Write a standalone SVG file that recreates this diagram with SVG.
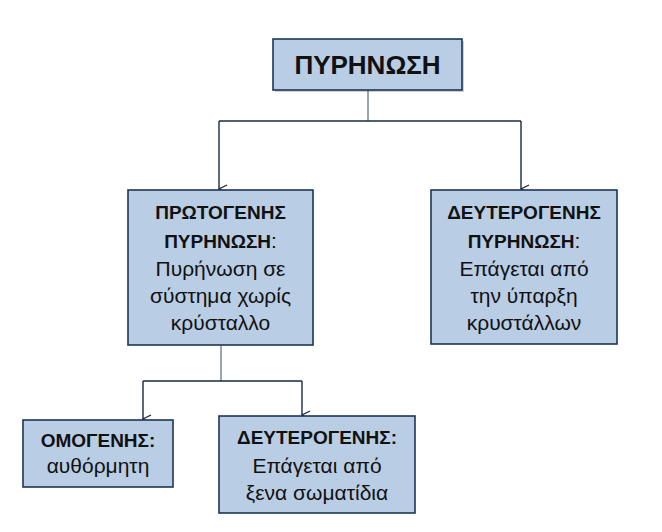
<svg xmlns="http://www.w3.org/2000/svg" width="662" height="532" viewBox="0 0 662 532">
<defs>
<style>
.box{fill:#B9CDE5;stroke:#1F3556;stroke-width:1.6}
.shadow{fill:#000;opacity:0.18}
.t{font-family:"Liberation Sans",Arial,sans-serif;font-size:21px;fill:#111;text-anchor:middle}
.b{font-weight:bold;font-size:19px}
.big{font-size:26px;font-weight:bold}
.ln{fill:none;stroke:#1A2840;stroke-width:1.4}
.stem{fill:none;stroke:#6E7F96;stroke-width:1.4}
</style>
<marker id="ah" viewBox="0 0 10 10" refX="5" refY="9" markerWidth="10" markerHeight="10" markerUnits="userSpaceOnUse" orient="auto">
<path d="M1,1 L5,9 L9,1" fill="none" stroke="#1A2840" stroke-width="1.3"/>
</marker>
</defs>
<rect width="662" height="532" fill="#fff"/>
<g id="connectors">
<path class="stem" d="M368,90 V121"/>
<path class="ln" d="M219,121 H521"/>
<path class="ln" d="M219,121 V189" marker-end="url(#ah)"/>
<path class="ln" d="M521,121 V189" marker-end="url(#ah)"/>
<path class="stem" d="M221,345 V381"/>
<path class="ln" d="M143,381 H302"/>
<path class="ln" d="M143,381 V419" marker-end="url(#ah)"/>
<path class="ln" d="M302,381 V415" marker-end="url(#ah)"/>
</g>
<g id="pyrinosi">
<rect class="shadow" x="275" y="41" width="189" height="51"/>
<rect class="box" x="273" y="39" width="189" height="51"/>
<text class="t big" x="367.5" y="74">ΠΥΡΗΝΩΣΗ</text>
</g>
<g id="protogenis">
<rect class="box" x="128" y="190" width="185" height="155"/>
<text class="t" x="220.5" y="219"><tspan class="b">ΠΡΩΤΟΓΕΝΗΣ</tspan></text>
<text class="t" x="220.5" y="248"><tspan class="b">ΠΥΡΗΝΩΣΗ</tspan>:</text>
<text class="t" x="220.5" y="276">Πυρήνωση σε</text>
<text class="t" x="220.5" y="303">σύστημα χωρίς</text>
<text class="t" x="220.5" y="330">κρύσταλλο</text>
</g>
<g id="deuterogenis-pyrinosi">
<rect class="box" x="431" y="190" width="186" height="154"/>
<text class="t" x="524" y="219"><tspan class="b">ΔΕΥΤΕΡΟΓΕΝΗΣ</tspan></text>
<text class="t" x="524" y="248"><tspan class="b">ΠΥΡΗΝΩΣΗ</tspan>:</text>
<text class="t" x="524" y="276">Επάγεται από</text>
<text class="t" x="524" y="303">την ύπαρξη</text>
<text class="t" x="524" y="330">κρυστάλλων</text>
</g>
<g id="omogenis">
<rect class="box" x="23" y="420" width="150" height="67"/>
<text class="t b" x="98" y="447">ΟΜΟΓΕΝΗΣ:</text>
<text class="t" x="98" y="473">αυθόρμητη</text>
</g>
<g id="deuterogenis">
<rect class="box" x="219" y="416" width="196" height="97"/>
<text class="t b" x="317" y="444">ΔΕΥΤΕΡΟΓΕΝΗΣ:</text>
<text class="t" x="317" y="473">Επάγεται από</text>
<text class="t" x="317" y="500">ξενα σωματίδια</text>
</g>
</svg>
